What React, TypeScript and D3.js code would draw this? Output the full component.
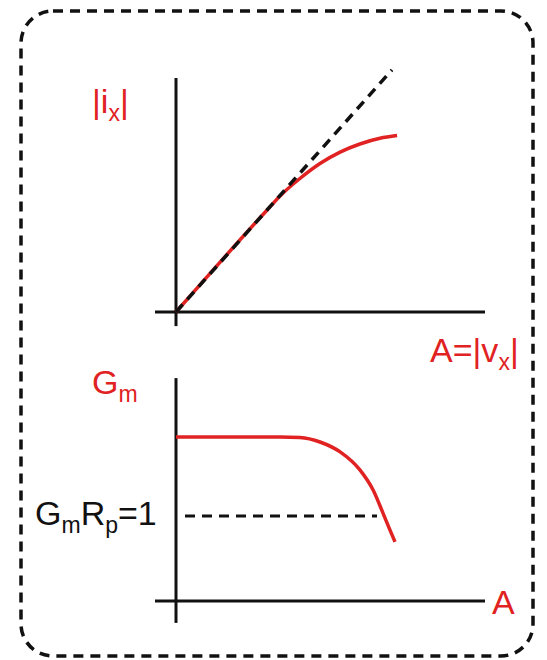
import React from "react";
import * as d3 from "d3";

// Top panel: ideal linear response and the saturating current |i_x| vs A
const idealLine: [number, number][] = [[0, 0], [7.2, 8.07]];
const currentCurve: [number, number][] = [
  [0, 0], [3.0, 3.36], [3.47, 3.87], [4.13, 4.45], [4.8, 4.95], [5.47, 5.33],
  [6.13, 5.6], [6.8, 5.79], [7.37, 5.88],
];

// Bottom panel: large-signal transconductance G_m vs A
const gmCurve: [number, number][] = [
  [0, 5.47], [3.47, 5.47], [4.13, 5.45], [4.8, 5.3], [5.47, 4.97], [6.13, 4.37],
  [6.57, 3.7], [6.9, 2.93], [7.13, 2.37], [7.3, 1.97],
];
const gmThreshold = 2.83;
const thresholdSpan: [number, number] = [0.3, 6.7];

const RED = "#e02222";

export default function App() {
  const W = 547, H = 660;
  const x = d3.scaleLinear().domain([0, 10]).range([176, 476]);
  const yTop = d3.scaleLinear().domain([0, 10]).range([312, 12]);
  const yBot = d3.scaleLinear().domain([0, 10]).range([601, 301]);

  const lineTop = d3.line<[number, number]>().x(d => x(d[0])).y(d => yTop(d[1]));
  const curveTop = d3.line<[number, number]>().x(d => x(d[0])).y(d => yTop(d[1])).curve(d3.curveMonotoneX);
  const curveBot = d3.line<[number, number]>().x(d => x(d[0])).y(d => yBot(d[1])).curve(d3.curveMonotoneX);

  const font = "'Liberation Sans', Arial, sans-serif";
  const fs = 34;
  const sub = 23;

  return (
    <svg width={W} height={H} style={{ position: "absolute", left: 0, top: 0, background: "#fff" }} fontFamily={font}>
      <rect x={21} y={11} width={512} height={645} rx={32} ry={32} fill="none" stroke="#111" strokeWidth={3.5} strokeDasharray="10 7" />

      {/* top panel axes */}
      <line x1={x(-0.7)} x2={x(10.3)} y1={yTop(0)} y2={yTop(0)} stroke="#111" strokeWidth={3} />
      <line x1={x(0)} x2={x(0)} y1={yTop(-0.47)} y2={yTop(7.8)} stroke="#111" strokeWidth={3} />
      <path d={curveTop(currentCurve) ?? ""} fill="none" stroke={RED} strokeWidth={3.5} />
      <path d={lineTop(idealLine) ?? ""} fill="none" stroke="#111" strokeWidth={3.5} strokeDasharray="10 7" />

      <text x={92} y={113} fill={RED} fontSize={fs}>
        |i<tspan fontSize={sub} dy={8}>x</tspan><tspan dy={-8}>|</tspan>
      </text>
      <text x={430} y={362} fill={RED} fontSize={fs}>
        A=|v<tspan fontSize={sub} dy={8}>x</tspan><tspan dy={-8}>|</tspan>
      </text>

      {/* bottom panel axes */}
      <line x1={x(-0.7)} x2={x(10.3)} y1={yBot(0)} y2={yBot(0)} stroke="#111" strokeWidth={3} />
      <line x1={x(0)} x2={x(0)} y1={yBot(-0.73)} y2={yBot(7.43)} stroke="#111" strokeWidth={3} />
      <line x1={x(thresholdSpan[0])} x2={x(thresholdSpan[1])} y1={yBot(gmThreshold)} y2={yBot(gmThreshold)}
        stroke="#111" strokeWidth={3} strokeDasharray="10 7" />
      <path d={curveBot(gmCurve) ?? ""} fill="none" stroke={RED} strokeWidth={3.5} />

      <text x={92} y={394} fill={RED} fontSize={fs}>
        G<tspan fontSize={sub} dy={8}>m</tspan>
      </text>
      <text x={35} y={525} fill="#111" fontSize={fs}>
        G<tspan fontSize={sub} dy={8}>m</tspan><tspan dy={-8}>R</tspan><tspan fontSize={sub} dy={8}>p</tspan><tspan dy={-8}>=1</tspan>
      </text>
      <text x={492} y={614} fill={RED} fontSize={fs}>A</text>
    </svg>
  );
}
